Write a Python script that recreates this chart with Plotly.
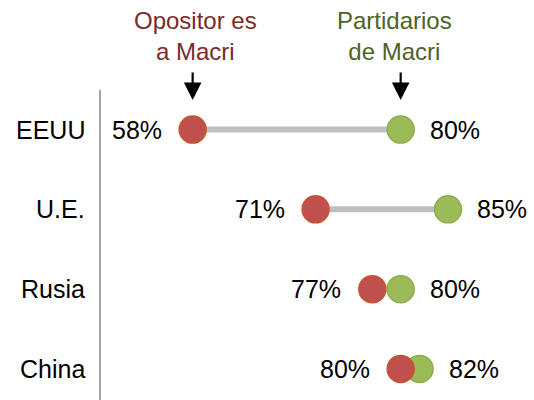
import plotly.graph_objects as go

categories = ["EEUU", "U.E.", "Rusia", "China"]
opositor = [58, 71, 77, 80]
partidarios = [80, 85, 80, 82]
header_opositor = "Opositor es<br>a Macri"
header_partidarios = "Partidarios<br>de Macri"

RED = "#C0504D"
RED_EDGE = "#C5562F"
GREEN = "#9BBB59"
GREEN_EDGE = "#8DAE4C"
FONT = "Liberation Sans, Arial, sans-serif"

fig = go.Figure()

# connecting lines
for i, cat in enumerate(categories):
    fig.add_trace(go.Scatter(x=[opositor[i], partidarios[i]], y=[i, i], mode="lines",
                             line=dict(color="#BFBFBF", width=6), hoverinfo="skip", showlegend=False))

# markers, per row (drawing order as in reference)
for i, cat in enumerate(categories):
    red = go.Scatter(x=[opositor[i]], y=[i], mode="markers",
                     marker=dict(size=27, color=RED, line=dict(color=RED_EDGE, width=1.5)), showlegend=False)
    green = go.Scatter(x=[partidarios[i]], y=[i], mode="markers",
                       marker=dict(size=27, color=GREEN, line=dict(color=GREEN_EDGE, width=1.5)), showlegend=False)
    if cat == "Rusia":
        fig.add_trace(red); fig.add_trace(green)
    else:
        fig.add_trace(green); fig.add_trace(red)

ann = []
for i, cat in enumerate(categories):
    ann.append(dict(x=0, xref="paper", y=i, yref="y", text=cat, showarrow=False,
                    xanchor="right", xshift=-13, font=dict(size=25, color="black", family=FONT)))
    ann.append(dict(x=opositor[i], y=i, text=f"{opositor[i]}%", showarrow=False,
                    xanchor="right", xshift=-29, font=dict(size=25, color="black", family=FONT)))
    ann.append(dict(x=partidarios[i], y=i, text=f"{partidarios[i]}%", showarrow=False,
                    xanchor="left", xshift=27, font=dict(size=25, color="black", family=FONT)))

ann.append(dict(x=opositor[0], y=-1.17, text=header_opositor, showarrow=False, xshift=3,
                font=dict(size=24, color="#772C2A", family=FONT), align="center"))
ann.append(dict(x=partidarios[0], y=-1.17, text=header_partidarios, showarrow=False, xshift=-6,
                font=dict(size=24, color="#4F6228", family=FONT), align="center"))
for v in [opositor[0], partidarios[0]]:
    ann.append(dict(x=v, y=-0.37, ax=0, ay=-29, text="", showarrow=True, arrowhead=2,
                    arrowsize=1.6, arrowwidth=2.2, arrowcolor="black"))

fig.add_shape(type="line", xref="paper", x0=0, x1=0, yref="y", y0=-0.5, y1=3.39,
              line=dict(color="#A6A6A6", width=2))

fig.update_layout(
    width=534, height=400,
    margin=dict(l=100, r=0, t=0, b=0),
    paper_bgcolor="white", plot_bgcolor="white",
    xaxis=dict(range=[48.2, 94.1], visible=False),
    yaxis=dict(range=[3.39, -1.625], visible=False),
    annotations=ann,
    showlegend=False,
)

fig.write_html("out.html", config={"displayModeBar": False},
               post_script="document.body.style.margin='0';document.body.style.overflow='hidden';")
